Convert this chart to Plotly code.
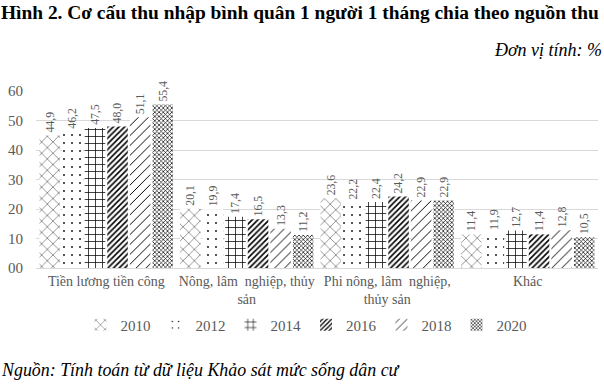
import plotly.graph_objects as go

categories = ["Tiền lương tiền công", "Nông, lâm  nghiệp, thủy<br>sản",
              "Phi nông, lâm  nghiệp,<br>thủy sản", "Khác"]
years = ["2010", "2012", "2014", "2016", "2018", "2020"]
values = {
    "2010": [44.9, 20.1, 23.6, 11.4],
    "2012": [46.2, 19.9, 22.2, 11.9],
    "2014": [47.5, 17.4, 22.4, 12.7],
    "2016": [48.0, 16.5, 24.2, 11.4],
    "2018": [51.1, 13.3, 22.9, 12.8],
    "2020": [55.4, 11.2, 22.9, 10.5],
}
y_ticks = [0, 10, 20, 30, 40, 50, 60]
y_ticktext = ["00", "10", "20", "30", "40", "50", "60"]

patterns = {
    "2010": dict(shape="x", size=8, solidity=0.1),
    "2012": dict(shape=".", size=8, solidity=0.04),
    "2014": dict(shape="+", size=7, solidity=0.2),
    "2016": dict(shape="/", size=4, solidity=0.4),
    "2018": dict(shape="/", size=7, solidity=0.14),
    "2020": dict(shape="x", size=3, solidity=0.4),
}

SERIF = "Liberation Serif, Times New Roman, serif"
GRAY = "#595959"

fig = go.Figure()
for yr in years:
    vals = values[yr]
    p = patterns[yr]
    fig.add_trace(go.Bar(
        name=yr, x=categories, y=vals,
        text=[f"{v:.1f}".replace(".", ",") for v in vals],
        textposition="outside", textangle=-90,
        textfont=dict(family=SERIF, size=12, color=GRAY),
        cliponaxis=False,
        marker=dict(color="white", line=dict(width=0),
                    pattern=dict(shape=p["shape"], size=p["size"], solidity=p["solidity"],
                                 fgcolor="black", bgcolor="white", fillmode="replace")),
    ))

L, R, T, B = 36, 6, 91, 118
PW = 604 - L - R
PH = 386 - T - B
fig.update_layout(
    width=604, height=386,
    margin=dict(l=L, r=R, t=T, b=B, autoexpand=False),
    paper_bgcolor="white", plot_bgcolor="white",
    barmode="group", bargap=0.035, bargroupgap=0.09,
    showlegend=True,
    legend=dict(orientation="h", x=(306 - L) / PW, xanchor="center",
                y=-(325 - 268) / PH, yanchor="middle",
                font=dict(family=SERIF, size=15, color=GRAY), itemwidth=30,
                traceorder="normal"),
    font=dict(family=SERIF, color=GRAY),
    annotations=[
        dict(text="<b>Hình 2. Cơ cấu thu nhập bình quân 1 người 1 tháng chia theo nguồn thu</b>",
             xref="paper", yref="paper", x=-L / PW, y=1 + (T - 12) / PH,
             xanchor="left", yanchor="middle", showarrow=False, borderpad=0,
             font=dict(family=SERIF, size=19.4, color="black")),
        dict(text="<i>Đơn vị tính: %</i>",
             xref="paper", yref="paper", x=1 + 5 / PW, y=1 + (T - 50) / PH,
             xanchor="right", yanchor="middle", showarrow=False, borderpad=0,
             font=dict(family=SERIF, size=18, color="black")),
        dict(text="<i>Nguồn: Tính toán từ dữ liệu Khảo sát mức sống dân cư</i>",
             xref="paper", yref="paper", x=-L / PW, y=-(370 - 268) / PH,
             xanchor="left", yanchor="middle", showarrow=False, borderpad=0,
             font=dict(family=SERIF, size=17.9, color="black")),
    ],
)
fig.update_yaxes(range=[0, 60], tickvals=y_ticks, ticktext=y_ticktext,
                 showgrid=True, gridcolor="#d9d9d9", gridwidth=1,
                 zeroline=False, showline=False, automargin=False,
                 tickfont=dict(family=SERIF, size=15, color=GRAY), ticklabelstandoff=12)
fig.update_xaxes(showline=True, linecolor="#d9d9d9", linewidth=1, automargin=False,
                 tickfont=dict(family=SERIF, size=14, color=GRAY), ticks="")

fig.write_html("out.html", config={"displayModeBar": False},
               post_script="document.body.style.margin='0';document.body.style.padding='0';")
